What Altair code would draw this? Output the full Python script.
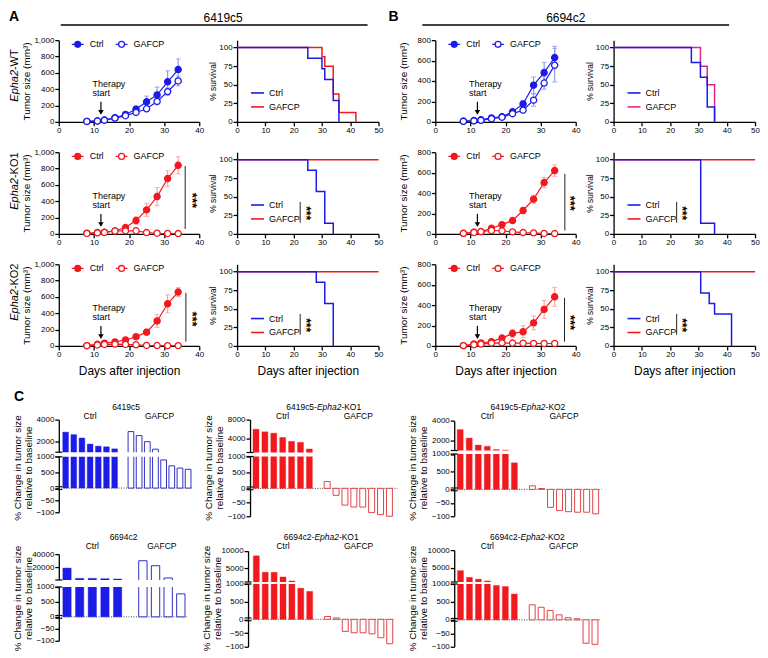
import altair as alt
import pandas as pd

FONT = "Liberation Sans"
INK = "#000000"
BLUE = "#1c1ce8"
BLUE_ERR = "#8e8ef4"
BLUE_OPEN = "#2f2fc4"
RED = "#f2191e"
RED_ERR = "#f59a9a"
RED_OPEN = "#e0454a"
MAGENTA = "#e32883"

DAYS = [8, 11, 13, 16, 19, 22, 25, 28, 31, 34]
GROUPS = ["Ctrl", "GAFCP"]

# ---------------- tumour growth (mean, SEM; mm3) ----------------
A_WT_CTRL = [5, 12, 22, 50, 90, 155, 245, 330, 490, 640]
A_WT_CTRL_SEM = [3, 4, 5, 8, 15, 40, 70, 95, 135, 130]
A_WT_GAF = [5, 10, 20, 45, 75, 115, 160, 250, 370, 500]
A_WT_GAF_SEM = [3, 3, 4, 6, 10, 15, 20, 40, 45, 60]
A_KO1_CTRL = [8, 16, 20, 37, 78, 163, 294, 457, 678, 840]
A_KO1_CTRL_SEM = [3, 4, 5, 8, 14, 45, 80, 110, 95, 105]
A_KO1_GAF = [5, 12, 18, 35, 37, 38, 16, 8, 5, 4]
A_KO1_GAF_SEM = [2, 3, 4, 6, 6, 8, 5, 3, 2, 2]
A_KO2_CTRL = [4, 20, 33, 50, 73, 113, 169, 306, 516, 660]
A_KO2_CTRL_SEM = [2, 4, 6, 8, 12, 25, 36, 80, 110, 55]
A_KO2_GAF = [3, 12, 18, 22, 18, 14, 6, 5, 4, 4]
A_KO2_GAF_SEM = [2, 3, 4, 5, 5, 4, 3, 2, 2, 2]
B_WT_CTRL = [6, 13, 20, 39, 49, 98, 175, 359, 483, 630]
B_WT_CTRL_SEM = [3, 3, 4, 8, 10, 25, 35, 80, 100, 110]
B_WT_GAF = [5, 10, 15, 30, 45, 80, 114, 212, 380, 555]
B_WT_GAF_SEM = [2, 3, 3, 5, 8, 12, 20, 60, 60, 165]
B_KO1_CTRL = [6, 16, 23, 55, 91, 131, 229, 340, 503, 620]
B_KO1_CTRL_SEM = [2, 4, 5, 8, 10, 12, 30, 40, 50, 56]
B_KO1_GAF = [5, 14, 22, 33, 30, 20, 13, 10, 4, 3]
B_KO1_GAF_SEM = [2, 3, 4, 6, 6, 5, 4, 3, 2, 2]
B_KO2_CTRL = [3, 19, 29, 42, 77, 123, 139, 226, 358, 481]
B_KO2_CTRL_SEM = [2, 5, 6, 10, 20, 40, 60, 67, 87, 93]
B_KO2_GAF = [3, 12, 18, 28, 30, 28, 27, 25, 24, 24]
B_KO2_GAF_SEM = [2, 3, 4, 5, 6, 6, 6, 5, 5, 5]

# ---------------- survival (event day, % surviving) ----------------
A_WT_S_CTRL_T = [0, 25, 30, 31, 34, 36]
A_WT_S_CTRL_P = [100, 85.7, 71.4, 57.1, 28.6, 0]
A_WT_S_GAF_T = [0, 30, 31, 34, 36, 42]
A_WT_S_GAF_P = [100, 87.5, 75, 37.5, 12.5, 0]
A_KO1_S_CTRL_T = [0, 25, 28, 31, 34]
A_KO1_S_CTRL_P = [100, 85.7, 57.1, 14.3, 0]
A_KO2_S_CTRL_T = [0, 28, 31, 34]
A_KO2_S_CTRL_P = [100, 85.7, 57.1, 0]
B_WT_S_CTRL_T = [0, 27.5, 30.7, 33.1, 35.7]
B_WT_S_CTRL_P = [100, 80, 60, 20, 0]
B_WT_S_GAF_T = [0, 30.7, 33.1, 35.7]
B_WT_S_GAF_P = [100, 75, 50, 0]
B_KO1_S_CTRL_T = [0, 30.8, 35.7]
B_KO1_S_CTRL_P = [100, 14.3, 0]
B_KO2_S_CTRL_T = [0, 30.8, 33.8, 35.7, 41.7]
B_KO2_S_CTRL_P = [100, 71.4, 57.1, 42.9, 0]
ALIVE_T = [0, 50]
ALIVE_P = [100, 100]

# significance annotations: (line x, line low, line high, text x, text y)
SIG_A_KO1 = (36.0, 60, 830, 37.9, 410)
SIG_B_KO1 = (36.9, 33, 588, 38.3, 300)
SIG_A_KO2 = (36.2, 52, 650, 37.9, 330)
SIG_B_KO2 = (36.8, 42, 471, 38.3, 230)
SIG_SURV = (22.3, 15, 43, 24.3, 28)

# "Therapy start" annotation: text day, arrow day, fractions of y max
THERAPY_TEXT_DAY = 9.6
THERAPY_ARROW_DAY = 12
THERAPY_FRAC = [0.46, 0.355, 0.245, 0.13, 0.115]

# ---------------- waterfall (% change relative to baseline) ----------------
C_6419_CTRL = [2850, 2620, 2310, 1750, 1560, 1500, 1310]
C_6419_GAF = [2900, 2530, 1970, 1280, 900, 710, 640, 600]
C_6419KO1_CTRL = [5960, 5410, 5115, 4210, 3370, 3160, 1750]
C_6419KO1_GAF = [214, -25, -60, -67, -67, -87, -94, -100]
C_6419KO2_CTRL = [3100, 2250, 1550, 1420, 1100, 1050, 750]
C_6419KO2_GAF = [100, 25, -67, -79, -83, -85, -85, -91]
C_6694_CTRL = [19000, 3500, 3500, 3000, 2500]
C_6694_GAF = [30000, 22500, 4000, 770]
C_6694KO1_CTRL = [8550, 3800, 3800, 2450, 1300, 880, 790]
C_6694KO1_GAF = [80, 40, -44, -49, -49, -53, -67, -89]
C_6694KO2_CTRL = [4200, 2300, 1800, 1300, 960, 930, 720]
C_6694KO2_GAF = [420, 350, 260, 140, 60, 30, -87, -91]

TW, SW, SW_A, PH = 141, 142, 161, 82
CH = 97

LEG_SYM = "M-1,0H-0.5M0.5,0H1M-0.5,0A0.5,0.5,0,1,1,0.5,0A0.5,0.5,0,1,1,-0.5,0"


def one():
    return pd.DataFrame({"k": [0]})


def text_w(s, fs):
    w = {"-": .333, "c": .5, "E": .667, "K": .667, "O": .778, "W": .944, "T": .611, " ": .278}
    return sum(w.get(ch, .556) for ch in s) * fs


def txt(t, x, y, **kw):
    kw.setdefault("color", INK)
    return alt.Chart(one()).mark_text(text=t, font=FONT, **kw).encode(x=alt.value(x), y=alt.value(y))


def anchor(x, y):
    return alt.Chart(one()).mark_point(opacity=0, size=4).encode(x=alt.value(x), y=alt.value(y))


def hline(x1, x2, y):
    return alt.Chart(one()).mark_rule(color=INK, strokeWidth=1.5).encode(
        x=alt.value(x1), x2=alt.value(x2), y=alt.value(y))


def row_label(parts, x, yc, fs=11):
    t1, t2 = parts
    w1, w2 = text_w(t1, fs), text_w(t2, fs)
    ys = yc + (w1 + w2) / 2 - w1
    return [txt(t1, x, ys, fontSize=fs, fontStyle="italic", angle=270, align="right", baseline="middle"),
            txt(t2, x, ys, fontSize=fs, angle=270, align="left", baseline="middle")]


def title_parts(parts, xc, y, fs):
    total = sum(text_w(t, fs) for t, _ in parts)
    x = xc - total / 2
    out = []
    for t, it in parts:
        kw = dict(fontSize=fs, align="left", baseline="middle")
        if it:
            kw["fontStyle"] = "italic"
        out.append(txt(t, x, y, **kw))
        x += text_w(t, fs)
    return out


def stars(sdf, X, Y, fs):
    return alt.Chart(sdf).mark_text(text="***", angle=90, fontSize=fs, fontWeight="bold",
                                    baseline="middle", align="center", color=INK).encode(x=X, y=Y)


def tumour(ctrl, csem, gaf, gsem, col, ecol, ymax, sig=None, xtitle=False, extra=()):
    df = pd.DataFrame({"day": DAYS * 2, "mean": ctrl + gaf, "sem": csem + gsem,
                       "group": ["Ctrl"] * len(DAYS) + ["GAFCP"] * len(DAYS)})
    xs = alt.Scale(domain=[0, 40], nice=False)
    ys = alt.Scale(domain=[0, ymax], nice=False)
    xax = alt.Axis(values=[0, 10, 20, 30, 40], title="Days after injection" if xtitle else None,
                   titleFontSize=12, titleY=25, titleBaseline="middle")
    yax = alt.Axis(values=list(range(0, ymax + 1, 200)), title="Tumor size (mm³)", titleFontSize=10,
                   titleX=-32, titleY=PH / 2, titleAngle=270, titleAlign="center", titleBaseline="middle")
    X = alt.X("day:Q", scale=xs, axis=xax)
    base = alt.Chart(df).transform_calculate(lo="max(0, datum.mean - datum.sem)",
                                             hi="datum.mean + datum.sem")
    err = base.mark_errorbar(ticks=True, size=5, thickness=1.1, color=ecol).encode(
        x=X, y=alt.Y("lo:Q", scale=ys, axis=yax), y2="hi:Q")
    line = base.mark_line(color=col, strokeWidth=1.2).encode(
        x=X, y=alt.Y("mean:Q", scale=ys, axis=yax), detail="group:N")
    leg = alt.Legend(orient="none", legendX=12, legendY=-3, direction="horizontal", title=None,
                     symbolType=LEG_SYM, symbolSize=140, symbolStrokeColor=col, symbolStrokeWidth=1.3,
                     labelFontSize=9, labelColor=INK, labelOffset=5, columnPadding=9, padding=0)
    pts = base.mark_point(shape="circle", size=38, strokeWidth=1.3, stroke=col, filled=True, opacity=1).encode(
        x=X, y=alt.Y("mean:Q", scale=ys, axis=yax),
        fill=alt.Fill("group:N", scale=alt.Scale(domain=GROUPS, range=[col, "white"]), legend=leg))
    f = THERAPY_FRAC
    th = pd.DataFrame({"day": [THERAPY_TEXT_DAY] * 2, "y": [f[0] * ymax, f[1] * ymax], "t": ["Therapy", "start"]})
    ttxt = alt.Chart(th).mark_text(align="left", baseline="middle", fontSize=9, color=INK).encode(
        x=X, y=alt.Y("y:Q", scale=ys, axis=yax), text="t:N")
    arr = pd.DataFrame({"day": [THERAPY_ARROW_DAY], "y1": [f[2] * ymax], "y2": [f[3] * ymax], "yh": [f[4] * ymax]})
    arule = alt.Chart(arr).mark_rule(color=INK, strokeWidth=1.2).encode(
        x=X, y=alt.Y("y1:Q", scale=ys, axis=yax), y2="y2:Q")
    ahead = alt.Chart(arr).mark_point(shape="triangle-down", filled=True, color=INK, size=30, opacity=1).encode(
        x=X, y=alt.Y("yh:Q", scale=ys, axis=yax))
    layers = [err, line, pts, ttxt, arule, ahead]
    if sig:
        sdf = pd.DataFrame({"day": [sig[0]], "lo": [sig[1]], "hi": [sig[2]], "tx": [sig[3]], "ty": [sig[4]]})
        layers.append(alt.Chart(sdf).mark_rule(color="#222222", strokeWidth=1).encode(
            x=X, y=alt.Y("lo:Q", scale=ys, axis=yax), y2="hi:Q"))
        layers.append(stars(sdf, alt.X("tx:Q", scale=xs, axis=xax), alt.Y("ty:Q", scale=ys, axis=yax), 13))
    layers += list(extra)
    return alt.layer(*layers).properties(width=TW, height=PH)


def survival(curves, cols, width, sig=None, xtitle=False, leg_y=45.5, extra=()):
    rows = []
    for g, (t, p) in zip(GROUPS, curves):
        for a, b in zip(t, p):
            rows.append({"t": a, "p": b, "group": g})
    df = pd.DataFrame(rows)
    xs = alt.Scale(domain=[0, 50], range=[0, SW], nice=False)
    ys = alt.Scale(domain=[0, 110], nice=False)
    xax = alt.Axis(values=[0, 10, 20, 30, 40, 50], title="Days after injection" if xtitle else None,
                   titleFontSize=12, titleY=25, titleBaseline="middle")
    yax = alt.Axis(values=[0, 25, 50, 75, 100], title="% survival", titleFontSize=8.5,
                   titleX=-24.5, titleY=PH / 2, titleAngle=270, titleAlign="center", titleBaseline="middle")
    X = alt.X("t:Q", scale=xs, axis=xax)
    Y = alt.Y("p:Q", scale=ys, axis=yax)
    leg = alt.Legend(orient="none", legendX=13, legendY=leg_y, title=None, symbolType="stroke",
                     symbolSize=170, symbolStrokeWidth=1.6, labelFontSize=9, labelColor=INK,
                     rowPadding=1, padding=0, labelOffset=4)
    sc = alt.Scale(domain=GROUPS, range=cols)
    layers = []
    for g in ["GAFCP", "Ctrl"]:
        layers.append(alt.Chart(df).transform_filter(f"datum.group == '{g}'").mark_line(
            interpolate="step-after", strokeWidth=1.5).encode(
            x=X, y=Y, stroke=alt.Stroke("group:N", scale=sc, legend=leg)))
    if sig:
        sdf = pd.DataFrame({"t": [sig[0]], "lo": [sig[1]], "hi": [sig[2]], "tx": [sig[3]], "ty": [sig[4]]})
        layers.append(alt.Chart(sdf).mark_rule(color="#222222", strokeWidth=1).encode(
            x=X, y=alt.Y("lo:Q", scale=ys, axis=yax), y2="hi:Q"))
        layers.append(stars(sdf, alt.X("tx:Q", scale=xs, axis=xax), alt.Y("ty:Q", scale=ys, axis=yax), 12))
    layers += list(extra)
    return alt.layer(*layers).properties(width=width, height=PH)


def waterfall(ctrl, gaf, fill_col, open_col, xdom, hw, ydom, yrng, yticks, width, title, gcent, extra=()):
    nc, ng = len(ctrl), len(gaf)
    slots = list(range(nc)) + list(range(nc + 1, nc + 1 + ng))
    df = pd.DataFrame({"slot": slots, "value": ctrl + gaf, "group": ["Ctrl"] * nc + ["GAFCP"] * ng})
    xs = alt.Scale(domain=xdom, nice=False, zero=False)
    ys = alt.Scale(domain=ydom, range=yrng, nice=False, zero=False)
    yax = alt.Axis(values=yticks, format="d", title=None, labelFontSize=8)
    base = alt.Chart(df).transform_calculate(x0=f"datum.slot - {hw}", x1=f"datum.slot + {hw}", base="0")

    def enc():
        return dict(x=alt.X("x0:Q", scale=xs, axis=None), x2="x1:Q",
                    y=alt.Y("value:Q", scale=ys, axis=yax), y2="base:Q")

    zero = alt.Chart(pd.DataFrame({"v": [0]})).mark_rule(strokeDash=[1, 1.5], color="#333333",
                                                          strokeWidth=0.9).encode(
        x=alt.value(0), x2=alt.value(width), y=alt.Y("v:Q", scale=ys, axis=yax))
    cbars = base.transform_filter("datum.group == 'Ctrl'").mark_rect(
        fill=fill_col, stroke=fill_col, strokeWidth=0.4).encode(**enc())
    gbars = base.transform_filter("datum.group == 'GAFCP'").mark_rect(
        fill="white", stroke=open_col, strokeWidth=1).encode(**enc())
    brk = alt.Chart(pd.DataFrame({"lo": [ydom[2]], "hi": [ydom[3]]})).mark_rect(color="white").encode(
        x=alt.value(-3), x2=alt.value(width), y=alt.Y("lo:Q", scale=ys, axis=yax), y2="hi:Q")
    # axis break marks (short double dashes crossing the axis)
    bdf = pd.DataFrame({"v": [ydom[2], ydom[3]]})
    bmarks = alt.Chart(bdf).mark_rule(color=INK, strokeWidth=1.2).encode(
        x=alt.value(-3.5), x2=alt.value(3.5), y=alt.Y("v:Q", scale=ys, axis=yax))
    zdf = pd.DataFrame({"v": [0]})
    zmarks = [alt.Chart(zdf).mark_rule(color=INK, strokeWidth=1.1, yOffset=off).encode(
        x=alt.value(-3.5), x2=alt.value(3.5), y=alt.Y("v:Q", scale=ys, axis=yax)) for off in (-1.4, 1.4)]
    glab = alt.Chart(pd.DataFrame({"gx": gcent, "label": GROUPS})).mark_text(
        fontSize=8.5, baseline="middle", color=INK).encode(
        x=alt.X("gx:Q", scale=xs, axis=None), y=alt.value(-4), text="label:N")
    layers = [zero, cbars, gbars, brk, bmarks] + zmarks + [glab]
    layers += title_parts(title, width / 2, -13, 8.5)
    layers.append(txt("% Change in tumor size", -41, CH / 2, fontSize=10, angle=270, align="center",
                      baseline="middle"))
    layers.append(txt("relative to baseline", -30, CH / 2, fontSize=10, angle=270, align="center",
                      baseline="middle"))
    layers += list(extra)
    return alt.layer(*layers).properties(width=width, height=CH)


# ---------------- panels A / B ----------------
ab = [
    tumour(A_WT_CTRL, A_WT_CTRL_SEM, A_WT_GAF, A_WT_GAF_SEM, BLUE, BLUE_ERR, 1000,
           extra=[anchor(-50, -30),
                  txt("A", -50, -30, fontSize=14, fontWeight="bold", align="left", baseline="top"),
                  txt("6419c5", 165, -27, fontSize=12, align="center", baseline="top"),
                  hline(2, 310, -15.3)] + row_label(("Epha2", "-WT"), -44, 35.5)),
    survival([(A_WT_S_CTRL_T, A_WT_S_CTRL_P), (A_WT_S_GAF_T, A_WT_S_GAF_P)], [BLUE, RED], SW_A),
    tumour(B_WT_CTRL, B_WT_CTRL_SEM, B_WT_GAF, B_WT_GAF_SEM, BLUE, BLUE_ERR, 800,
           extra=[txt("B", -47, -30, fontSize=14, fontWeight="bold", align="left", baseline="top"),
                  txt("6694c2", 131, -27, fontSize=12, align="center", baseline="top"),
                  hline(-13, 295, -15.3)]),
    survival([(B_WT_S_CTRL_T, B_WT_S_CTRL_P), (B_WT_S_GAF_T, B_WT_S_GAF_P)], [BLUE, MAGENTA], SW),

    tumour(A_KO1_CTRL, A_KO1_CTRL_SEM, A_KO1_GAF, A_KO1_GAF_SEM, RED, RED_ERR, 1000, sig=SIG_A_KO1,
           extra=row_label(("Epha2", "-KO1"), -44, 29)),
    survival([(A_KO1_S_CTRL_T, A_KO1_S_CTRL_P), (ALIVE_T, ALIVE_P)], [BLUE, RED], SW_A, sig=SIG_SURV),
    tumour(B_KO1_CTRL, B_KO1_CTRL_SEM, B_KO1_GAF, B_KO1_GAF_SEM, RED, RED_ERR, 800, sig=SIG_B_KO1),
    survival([(B_KO1_S_CTRL_T, B_KO1_S_CTRL_P), (ALIVE_T, ALIVE_P)], [BLUE, RED], SW, sig=SIG_SURV),

    tumour(A_KO2_CTRL, A_KO2_CTRL_SEM, A_KO2_GAF, A_KO2_GAF_SEM, RED, RED_ERR, 1000, sig=SIG_A_KO2,
           xtitle=True, extra=[anchor(-50, PH + 40)] + row_label(("Epha2", "-KO2"), -44, 28)),
    survival([(A_KO2_S_CTRL_T, A_KO2_S_CTRL_P), (ALIVE_T, ALIVE_P)], [BLUE, RED], SW_A, sig=SIG_SURV,
             xtitle=True, leg_y=47),
    tumour(B_KO2_CTRL, B_KO2_CTRL_SEM, B_KO2_GAF, B_KO2_GAF_SEM, RED, RED_ERR, 800, sig=SIG_B_KO2,
           xtitle=True),
    survival([(B_KO2_S_CTRL_T, B_KO2_S_CTRL_P), (ALIVE_T, ALIVE_P)], [BLUE, RED], SW, sig=SIG_SURV,
             xtitle=True, leg_y=47),
]
AB = alt.concat(*ab, columns=4, spacing={"row": 30.5, "column": 38}, bounds="flush", align="each") \
    .resolve_scale(fill="independent", stroke="independent")

# ---------------- panel C ----------------
SEG = [-100, 0, 1000, 1001]
P1 = waterfall(C_6419_CTRL, C_6419_GAF, BLUE, BLUE_OPEN, [-0.835, 15.63], 0.35,
               SEG + [4000], [93, 68.7, 37.3, 32.7, 0], [-100, -50, 0, 500, 1000, 2000, 4000], 135,
               [("6419c5", False)], [3, 11.5],
               extra=[anchor(-46, -30), anchor(-46, 106),
                      txt("C", -45, -30, fontSize=14, fontWeight="bold", align="left", baseline="top")])
P2 = waterfall(C_6419KO1_CTRL, C_6419KO1_GAF, RED, RED_OPEN, [-0.67, 15.9], 0.335,
               SEG + [8000], [97, 69, 37, 33, 0], [-100, -50, 0, 500, 1000, 4000, 8000], 148,
               [("6419c5-", False), ("Epha2", True), ("-KO1", False)], [3, 11.5])
P3 = waterfall(C_6419KO2_CTRL, C_6419KO2_GAF, RED, RED_OPEN, [-0.66, 15.66], 0.33,
               SEG + [4000], [97, 70, 34.5, 31, 1], [-100, -50, 0, 500, 1000, 2000, 4000], 148,
               [("6419c5-", False), ("Epha2", True), ("-KO2", False)], [3, 11.5])
Q1 = waterfall(C_6694_CTRL, C_6694_GAF, BLUE, BLUE_OPEN, [-0.65, 9.59], 0.33,
               SEG + [40000], [91, 67, 37, 30, 4], [-100, -50, 0, 500, 1000, 20000, 40000], 130,
               [("6694c2", False)], [2, 7.5], extra=[anchor(-50, -21)])
Q2 = waterfall(C_6694KO1_CTRL, C_6694KO1_GAF, RED, RED_OPEN, [-0.93, 15.53], 0.335,
               SEG + [10000], [97, 69.5, 34, 32, 0.7], [-100, -50, 0, 500, 1000, 5000, 10000], 147,
               [("6694c2-", False), ("Epha2", True), ("-KO1", False)], [3, 11.5])
Q3 = waterfall(C_6694KO2_CTRL, C_6694KO2_GAF, RED, RED_OPEN, [-0.7, 15.63], 0.33,
               SEG + [10000], [97, 70, 34, 32, 0], [-100, -50, 0, 500, 1000, 5000, 10000], 147,
               [("6694c2-", False), ("Epha2", True), ("-KO2", False)], [3, 11.5])

C1 = alt.hconcat(P1, P2, P3, spacing=57, bounds="flush")
C2 = alt.hconcat(Q1, Q2, Q3, spacing=60, bounds="flush")

chart = alt.vconcat(AB, C1, C2, spacing=2).properties(padding=0) \
    .configure(font=FONT) \
    .configure_view(strokeWidth=0) \
    .configure_axis(domainColor=INK, domainWidth=1.3, tickColor=INK, tickWidth=1.3, tickSize=4,
                    labelFontSize=8, labelColor=INK, labelPadding=1, grid=False, titleColor=INK,
                    titleFontWeight="normal", labelFlush=False, labelOverlap=False)

chart.save("out.html", embed_options={"renderer": "svg", "actions": False})
